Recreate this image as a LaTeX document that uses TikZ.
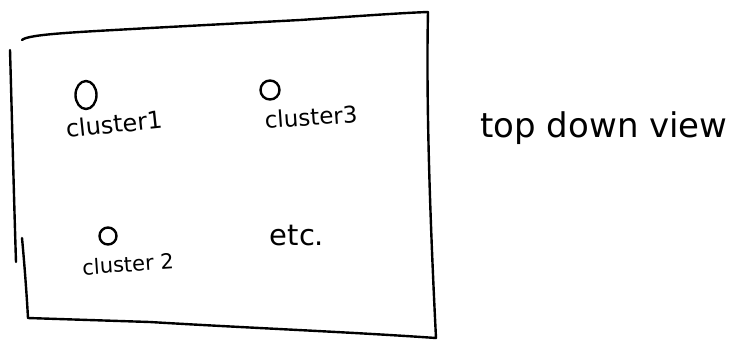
\documentclass[tikz,border=0pt]{standalone}
\usepackage{fontspec}
\usetikzlibrary{shapes.geometric}
\setmainfont{DejaVu Sans}
\begin{document}
\begin{tikzpicture}[x=1pt,y=-1pt,
  pen/.style={line width=2.4pt, line cap=round, line join=round, black},
  dot/.style={pen, draw, ellipse, inner sep=0pt, outer sep=0pt},
  lbl/.style={inner sep=0pt}]
  \useasboundingbox[fill=white] (0,0) rectangle (735,349);

  % outline of the view frame, drawn freehand
  \draw[pen] (22,40) .. controls (28,34) and (80,32) .. (150,28)
             -- (300,20) .. controls (360,16) and (400,13) .. (428,12);
  \draw[pen] (428,12) .. controls (426,100) and (430,220) .. (436,338);
  \draw[pen] (436,338) .. controls (350,332) and (250,328) .. (150,322)
             -- (28,318);
  \draw[pen] (10,50) .. controls (12,120) and (14,200) .. (16,262);
  \draw[pen] (22,238) .. controls (25,270) and (27,300) .. (28,318);

  % clusters
  \node[dot, minimum width=21pt, minimum height=28pt] (c1) at (86,95) {};
  \node[lbl, rotate=6, font=\fontsize{24}{26}\selectfont] (t1) at (114,124) {cluster1};
  \node[dot, minimum width=19pt, minimum height=19pt] (c3) at (270,90) {};
  \node[lbl, rotate=4, font=\fontsize{23}{25}\selectfont] (t3) at (311,117) {cluster3};
  \node[dot, minimum width=17pt, minimum height=17pt] (c2) at (108,236) {};
  \node[lbl, rotate=4, font=\fontsize{21}{23}\selectfont] (t2) at (128,264) {cluster 2};
  \node[lbl, font=\fontsize{29}{31}\selectfont] (etc) at (297,236) {etc.};

  % caption
  \node[font=\fontsize{34}{36}\selectfont, inner sep=0pt] (cap) at (604,128) {top down view};
\end{tikzpicture}
\end{document}
